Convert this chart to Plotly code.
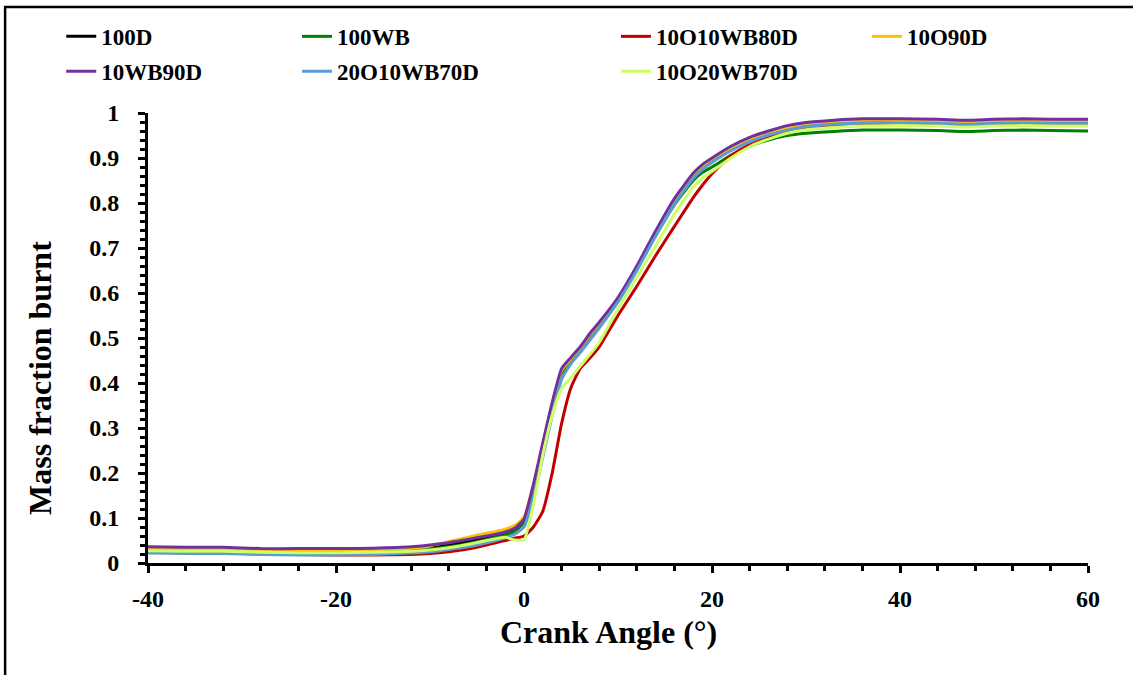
import plotly.graph_objects as go

# Crank angle grid (degrees) shared by every fuel blend
crank_angle = [-40, -36, -32, -28, -24, -20, -16, -12, -10, -8, -6, -4, -3, -2, -1,
               0, 1, 2, 3, 4, 5, 6, 7, 8, 10, 12, 14, 16, 18, 19, 20, 22, 24, 26,
               28, 30, 33, 36, 40, 44, 47, 50, 53, 56, 60]

# Mass fraction burnt for each blend
mfb_100D = [0.031, 0.030, 0.029, 0.027, 0.027, 0.027, 0.028, 0.030, 0.034, 0.040, 0.048, 0.057, 0.061, 0.066, 0.074,
            0.095, 0.168, 0.260, 0.350, 0.425, 0.452, 0.476, 0.505, 0.530, 0.585, 0.655, 0.732, 0.800, 0.858, 0.878,
            0.893, 0.918, 0.938, 0.952, 0.963, 0.971, 0.976, 0.979, 0.979, 0.978, 0.976, 0.978, 0.979, 0.978, 0.978]
mfb_100WB = [0.029, 0.028, 0.028, 0.026, 0.025, 0.025, 0.026, 0.028, 0.031, 0.036, 0.043, 0.052, 0.057, 0.062, 0.070,
             0.090, 0.160, 0.252, 0.343, 0.420, 0.450, 0.473, 0.502, 0.527, 0.582, 0.652, 0.728, 0.796, 0.850, 0.868,
             0.880, 0.906, 0.926, 0.940, 0.950, 0.955, 0.959, 0.962, 0.962, 0.961, 0.959, 0.961, 0.962, 0.961, 0.960]
mfb_10O10WB80D = [0.024, 0.023, 0.022, 0.020, 0.019, 0.018, 0.018, 0.019, 0.021, 0.025, 0.031, 0.040, 0.045, 0.050, 0.055,
                  0.060, 0.080, 0.115, 0.200, 0.310, 0.390, 0.433, 0.455, 0.480, 0.550, 0.615, 0.683, 0.748, 0.812, 0.840,
                  0.865, 0.905, 0.930, 0.945, 0.957, 0.965, 0.970, 0.973, 0.974, 0.973, 0.971, 0.973, 0.974, 0.973, 0.973]
mfb_10O90D = [0.033, 0.032, 0.031, 0.029, 0.029, 0.029, 0.030, 0.033, 0.038, 0.048, 0.057, 0.066, 0.070, 0.075, 0.083,
              0.102, 0.172, 0.263, 0.352, 0.428, 0.454, 0.478, 0.507, 0.532, 0.588, 0.658, 0.735, 0.805, 0.862, 0.882,
              0.897, 0.922, 0.942, 0.956, 0.967, 0.975, 0.980, 0.982, 0.982, 0.981, 0.979, 0.981, 0.982, 0.981, 0.981]
mfb_10WB90D = [0.036, 0.035, 0.035, 0.032, 0.032, 0.032, 0.033, 0.036, 0.040, 0.045, 0.052, 0.060, 0.064, 0.069, 0.077,
               0.098, 0.175, 0.267, 0.357, 0.432, 0.457, 0.481, 0.510, 0.535, 0.590, 0.660, 0.738, 0.810, 0.866, 0.886,
               0.900, 0.926, 0.946, 0.960, 0.972, 0.979, 0.984, 0.987, 0.987, 0.986, 0.984, 0.986, 0.987, 0.986, 0.986]
mfb_20O10WB70D = [0.022, 0.021, 0.021, 0.019, 0.018, 0.018, 0.019, 0.022, 0.025, 0.030, 0.036, 0.045, 0.050, 0.056, 0.064,
                  0.080, 0.145, 0.235, 0.328, 0.408, 0.443, 0.468, 0.495, 0.522, 0.580, 0.650, 0.726, 0.797, 0.855, 0.875,
                  0.890, 0.916, 0.936, 0.951, 0.962, 0.970, 0.975, 0.978, 0.978, 0.977, 0.975, 0.977, 0.978, 0.977, 0.977]
mfb_10O20WB70D = [0.027, 0.026, 0.026, 0.024, 0.023, 0.023, 0.024, 0.026, 0.029, 0.034, 0.041, 0.050, 0.054, 0.057, 0.051,
                  0.052, 0.130, 0.240, 0.328, 0.388, 0.412, 0.438, 0.463, 0.490, 0.565, 0.635, 0.705, 0.775, 0.835, 0.855,
                  0.870, 0.900, 0.925, 0.942, 0.955, 0.963, 0.968, 0.971, 0.972, 0.971, 0.969, 0.971, 0.972, 0.971, 0.971]

series_names = ["100D", "100WB", "10O10WB80D", "10O90D", "10WB90D", "20O10WB70D", "10O20WB70D"]
series_values = [mfb_100D, mfb_100WB, mfb_10O10WB80D, mfb_10O90D, mfb_10WB90D, mfb_20O10WB70D, mfb_10O20WB70D]
series_colors = ["#000000", "#008000", "#C00000", "#FFC000", "#7030A0", "#5B9BD5", "#CCFF66"]
# legend column each series is listed in (four columns across the top)
series_legend = ["legend", "legend2", "legend3", "legend4", "legend", "legend2", "legend3"]

# axis ticks (labels use a plain hyphen for negatives)
x_tick_vals = [-40, -20, 0, 20, 40, 60]
x_tick_text = ["-40", "-20", "0", "20", "40", "60"]
y_tick_vals = [0, 0.1, 0.2, 0.3, 0.4, 0.5, 0.6, 0.7, 0.8, 0.9, 1]
y_tick_text = ["0", "0.1", "0.2", "0.3", "0.4", "0.5", "0.6", "0.7", "0.8", "0.9", "1"]

FONT = "Liberation Serif"


def bold(s):
    return f"<b>{s}</b>"


fig = go.Figure()
for name, vals, col, leg in zip(series_names, series_values, series_colors, series_legend):
    fig.add_trace(go.Scatter(
        x=crank_angle, y=vals, name=bold(name), mode="lines",
        line=dict(color=col, width=3, shape="spline", smoothing=0.5),
        legend=leg, legendgroup=name,
    ))

legend_style = dict(
    orientation="v", yanchor="top", xanchor="left", y=1.218,
    font=dict(family=FONT, size=23, color="black"),
    bgcolor="rgba(0,0,0,0)", tracegroupgap=2,
)
fig.update_layout(
    width=1133, height=675,
    margin=dict(l=148, r=45, t=113, b=112),
    plot_bgcolor="white", paper_bgcolor="white",
    font=dict(family=FONT, size=22, color="black"),
    legend=dict(x=-0.0923, **legend_style),
    legend2=dict(x=0.1585, **legend_style),
    legend3=dict(x=0.4978, **legend_style),
    legend4=dict(x=0.7648, **legend_style),
    xaxis=dict(
        range=[-40, 60], tickmode="array", tickvals=x_tick_vals,
        ticktext=[bold(t) for t in x_tick_text],
        showline=True, linecolor="black", linewidth=3,
        ticks="outside", ticklen=7, tickwidth=3, tickcolor="black",
        minor=dict(dtick=4, tick0=-40, ticks="outside", ticklen=5, tickwidth=2.5, tickcolor="black"),
        showgrid=False, zeroline=False, ticklabelstandoff=5,
        tickfont=dict(family=FONT, size=24, color="black"),
    ),
    yaxis=dict(
        range=[0, 1], tickmode="array", tickvals=y_tick_vals,
        ticktext=[bold(t) for t in y_tick_text],
        showline=True, linecolor="black", linewidth=3,
        ticks="outside", ticklen=7, tickwidth=3, tickcolor="black",
        minor=dict(dtick=0.02, tick0=0, ticks="outside", ticklen=5, tickwidth=2.5, tickcolor="black"),
        showgrid=False, zeroline=False, ticklabelstandoff=14,
        tickfont=dict(family=FONT, size=24, color="black"),
    ),
    annotations=[
        dict(text=bold("Crank Angle (°)"), xref="paper", yref="paper", x=0.49, y=-0.153,
             xanchor="center", yanchor="middle", showarrow=False,
             font=dict(family=FONT, size=32, color="black")),
        dict(text=bold("Mass fraction burnt"), xref="paper", yref="paper", x=-0.115, y=0.411,
             xanchor="center", yanchor="middle", textangle=-90, showarrow=False,
             font=dict(family=FONT, size=32, color="black")),
    ],
    shapes=[dict(type="rect", xref="paper", yref="paper",
                 x0=-0.152, y0=-2, x1=2, y1=1.2355,
                 line=dict(color="black", width=2.5), fillcolor="rgba(0,0,0,0)", layer="below")],
)

fig.write_html("out.html")
